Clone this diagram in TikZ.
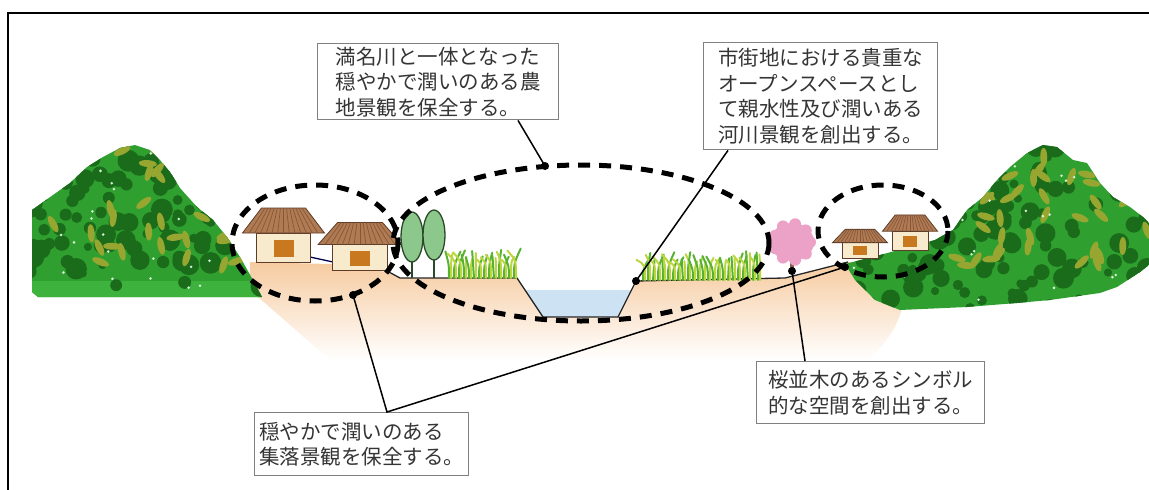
\documentclass[tikz,border=0pt]{standalone}
\usepackage{fontspec}
\setmainfont{Noto Sans CJK JP}
\usetikzlibrary{calc}

\definecolor{peach}{HTML}{F6CBA0}
\definecolor{water}{HTML}{CDE2F3}
\definecolor{leafmid}{HTML}{2FA02F}
\definecolor{leafdark}{HTML}{1A6C1A}
\definecolor{leaflight}{HTML}{3DB33D}
\definecolor{olive}{HTML}{96A630}
\definecolor{roof}{HTML}{B07A52}
\definecolor{roofline}{HTML}{85573A}
\definecolor{wall}{HTML}{F8EBCD}
\definecolor{door}{HTML}{C8781E}
\definecolor{treegreen}{HTML}{8CC78C}
\definecolor{treeline}{HTML}{2A4A2A}
\definecolor{reedgreen}{HTML}{58B232}
\definecolor{reedyellow}{HTML}{BBD63E}
\definecolor{sakura}{HTML}{EBA2C6}
\definecolor{bark}{HTML}{8A5A4A}
\definecolor{boxgray}{HTML}{808080}
\definecolor{textgray}{HTML}{353535}

\tikzset{
  labelbox/.style={draw=boxgray, line width=1.4pt, fill=white, anchor=north west,
    align=left, inner sep=0pt, text=textgray,
    font=\fontsize{20.5pt}{25.5pt}\selectfont},
  zone/.style={line width=5pt, dash pattern=on 12pt off 9pt},
  leader/.style={line width=1.5pt},
  spot/.style={circle, fill=black, inner sep=0pt, minimum size=8pt},
  reed/.style={reedgreen, line width=2pt, line cap=round},
  reedtip/.style={reedyellow, line width=2pt, line cap=round},
  house/.style={draw=roofline!70!black, line width=0.8pt},
}

\begin{document}
\begin{tikzpicture}[x=1pt, y=-1pt]
	\useasboundingbox (0,0) rectangle (1149,490);
	\pgfmathsetseed{11}

	% frame
	\draw [line width=2pt](7.5,490) -- (7.5,12.5) -- (1149,12.5);

	% ground, fading downwards
	\shade [top color=peach, middle color=peach!70!white, bottom color=white]
		(250,262) -- (330,264) -- (387,272) -- (400,278) -- (517,278) -- (543,317) -- (618,317)
		-- (636,281) -- (785,278) -- (848,262) -- (905,265) -- (905,300) .. controls (895,330) .. (870,360)
		-- (330,360) -- (250,290) -- cycle;

	% river
	\fill [water](525,290) -- (543,317) -- (618,317) -- (631,290) -- cycle;

	% left wooded hill
	\begin{scope}
		\clip (32,292) -- (32,210) -- (53,195) -- (70,183) -- (87,167) -- (103,157) -- (120,148) -- (135,145)
			-- (150,150) -- (160,160) -- (170,172) -- (180,188) -- (197,207) -- (213,220) -- (227,237)
			-- (240,257) -- (253,280) -- (262,297) -- (38,297) -- cycle;
		\fill [leafmid](20,130) rectangle (280,310);
		\fill [leaflight](20,281) rectangle (280,310);
		\foreach \i in {1,...,110}{
			\pgfmathsetmacro\bx{30+235*rnd}
			\pgfmathsetmacro\by{145+145*rnd}
			\pgfmathsetmacro\br{4+7*rnd}
			\fill [leafdark](\bx,\by) circle (\br);
		}
		\foreach \i in {1,...,40}{
			\pgfmathsetmacro\bx{40+215*rnd}
			\pgfmathsetmacro\by{150+115*rnd}
			\pgfmathsetmacro\ba{180*rnd}
			\fill [olive, rotate around={\ba:(\bx,\by)}](\bx,\by) ellipse (9 and 3.5);
		}
		\foreach \i in {1,...,30}{
			\fill [white!80!leaflight](30+235*rnd, 150+140*rnd) circle (1.4);
		}
	\end{scope}

	% right wooded hill
	\begin{scope}
		\clip (845,264) -- (880,255) -- (935,240) -- (953,230) -- (967,210) -- (983,197) -- (997,180)
			-- (1010,167) -- (1027,153) -- (1043,145) -- (1057,147) -- (1073,160) -- (1087,163) -- (1100,183)
			-- (1113,197) -- (1130,207) -- (1143,217) -- (1149,223) -- (1149,265) -- (1140,272) -- (1117,287)
			-- (1100,293) -- (1050,300) -- (1017,303) -- (967,307) -- (900,310) -- (875,300) -- (855,280) -- cycle;
		\fill [leafmid](840,140) rectangle (1149,315);
		\foreach \i in {1,...,140}{
			\pgfmathsetmacro\bx{845+305*rnd}
			\pgfmathsetmacro\by{145+165*rnd}
			\pgfmathsetmacro\br{4+7*rnd}
			\fill [leafdark](\bx,\by) circle (\br);
		}
		\foreach \i in {1,...,50}{
			\pgfmathsetmacro\bx{930+220*rnd}
			\pgfmathsetmacro\by{150+120*rnd}
			\pgfmathsetmacro\ba{180*rnd}
			\fill [olive, rotate around={\ba:(\bx,\by)}](\bx,\by) ellipse (9 and 3.5);
		}
		\foreach \i in {1,...,40}{
			\fill [white!80!leaflight](850+300*rnd, 150+150*rnd) circle (1.4);
		}
	\end{scope}

	% ground line and banks
	\draw [line width=1.3pt, black!85](387,271) -- (400,278) -- (517,278) -- (543,317) -- (618,317)
		-- (636,281) -- (785,278) -- (848,262);
	\draw [line width=1.3pt, blue!30!black](310,257) -- (333,262);

	% houses: x / y / xscale / yscale
	\foreach \hx/\hy/\sx/\sy in {283.5/262/1/1, 360/270/1.02/0.88, 860/258/0.67/0.53, 910/250/0.67/0.65}{
		\begin{scope}[shift={(\hx,\hy)}, xscale=\sx, yscale=\sy]
			\filldraw [house, fill=wall](-27,0) rectangle (27,-29);
			\fill [door](-10,-5) rectangle (10,-22);
			\filldraw [house, fill=roof](-41,-29) -- (41,-29) -- (22,-54) -- (-22,-54) -- cycle;
			\foreach \t in {-0.84,-0.7,...,0.85}
				\draw [roofline, line width=0.7pt](41*\t,-29) -- (22*\t,-54);
		\end{scope}
	}

	% poplars
	\foreach \tx/\ty in {412/237, 434/235}{
		\draw [treeline, line width=1.5pt](\tx,\ty+20) -- (\tx,278);
		\filldraw [fill=treegreen, draw=treeline, line width=1.3pt](\tx,\ty) ellipse (11 and 25);
	}

	% paddy rice
	\foreach \x in {449,454,...,515}{
		\pgfmathsetmacro\h{20+10*rnd}
		\pgfmathsetmacro\l{-7+14*rnd}
		\draw [reed](\x,278) .. controls (\x,278-\h/2) .. (\x+\l,278-\h);
		\draw [reedtip](\x+2,278) .. controls (\x+2,270-\h/3) .. (\x-\l,280-\h);
	}
	\foreach \x in {643,648,...,758}{
		\pgfmathsetmacro\h{20+9*rnd}
		\pgfmathsetmacro\l{-7+14*rnd}
		\draw [reed](\x,280) .. controls (\x,280-\h/2) .. (\x+\l,280-\h);
		\draw [reedtip](\x+2,280) .. controls (\x+2,272-\h/3) .. (\x-\l,282-\h);
	}

	% cherry tree
	\draw [bark, line width=4pt](792,256) -- (792,272);
	\fill [sakura](792,242) ellipse (22 and 19);
	\foreach \a in {0,40,...,320}
		\fill [sakura](792,242) ++(\a:18) circle (6);

	% zones
	\draw [zone](315,243) ellipse (83 and 58);
	\draw [zone](581,243) ellipse (188 and 78);
	\draw [zone](883,231) ellipse (65 and 46);

	% labels
	\node [labelbox, minimum width=241pt, minimum height=76pt](farmland) at (317,43)
		{満名川と一体となった\\穏やかで潤いのある農\\地景観を保全する。};
	\node [labelbox, minimum width=234pt, minimum height=107pt](riverside) at (703,42)
		{市街地における貴重な\\オープンスペースとし\\て親水性及び潤いある\\河川景観を創出する。};
	\node [labelbox, minimum width=214pt, minimum height=63pt](village) at (254,412)
		{穏やかで潤いのある\\集落景観を保全する。};
	\node [labelbox, minimum width=228pt, minimum height=62pt](sakura) at (756,361)
		{桜並木のあるシンボル\\的な空間を創出する。};

	\node [spot](farmspot) at (545,166) {};
	\node [spot](bankspot) at (636,281) {};
	\node [spot](villagespot) at (353,295) {};
	\node [spot](hamletspot) at (845,267) {};
	\node [spot](sakuraspot) at (792,271) {};

	\draw [leader]($(farmland.south west)+(201,0)$) -- (farmspot.center);
	\draw [leader]($(riverside.south west)+(25,0)$) -- (bankspot.center);
	\draw [leader](villagespot.center) -- ($(village.north west)+(133,0)$) -- (hamletspot.center);
	\draw [leader]($(sakura.north west)+(49,0)$) -- (sakuraspot.center);
\end{tikzpicture}
\end{document}
